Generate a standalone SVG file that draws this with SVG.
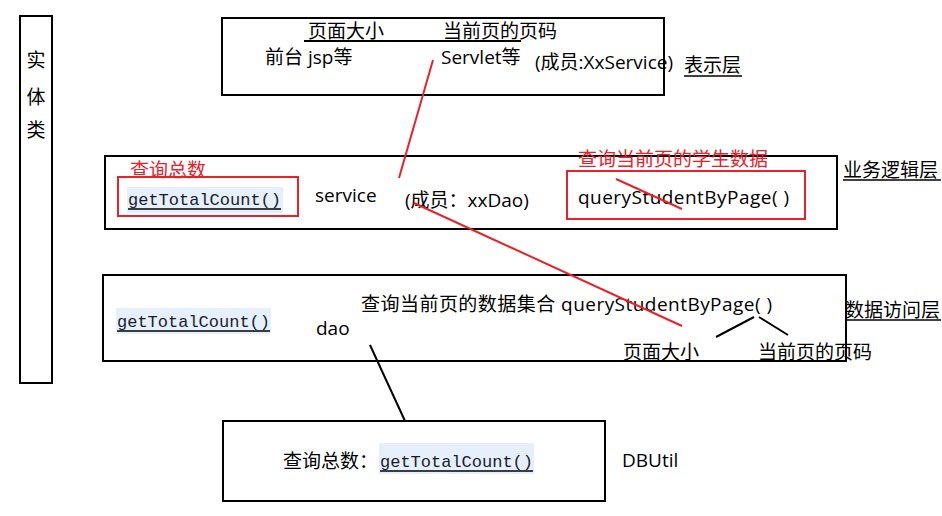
<svg xmlns="http://www.w3.org/2000/svg" width="942" height="516" viewBox="0 0 942 516">
<style>
.box{fill:none;stroke:#000;stroke-width:2}
.rbox{fill:none;stroke:#e8212a;stroke-width:2}
.t{font-family:"Open Sans","Noto Sans CJK SC",sans-serif;font-size:19px;fill:#000}
.r{fill:#e8212a}
.m{font-family:"Liberation Mono",monospace;font-size:17px;fill:#1a1a2a}
.hl{fill:#e6f0fc}
.ln{stroke:#000;stroke-width:2;fill:none}
.ul{stroke:#000;stroke-width:1.3}
.red{stroke:#e8212a;stroke-width:2;fill:none}
</style>
<rect width="942" height="516" fill="#fff"/>
<g id="entity">
<rect class="box" x="20" y="16" width="32" height="367"/>
<text class="t" x="36" y="67" text-anchor="middle">实</text>
<text class="t" x="36" y="104" text-anchor="middle">体</text>
<text class="t" x="36" y="137" text-anchor="middle">类</text>
</g>
<g id="presentation">
<rect class="box" x="222" y="18" width="442" height="77"/>
<text class="t" x="308" y="38">页面大小</text>
<text class="t" x="443" y="38">当前页的页码</text>
<line class="ln" x1="304" y1="41" x2="521" y2="41"/>
<text class="t" x="265" y="64">前台 jsp等</text>
<text class="t" x="441" y="64">Servlet等</text>
<text class="t" x="535" y="69">(成员:XxService)</text>
<text class="t" x="684" y="72">表示层</text>
<line class="ul" x1="684" y1="76" x2="742" y2="76"/>
</g>
<g id="service">
<rect class="box" x="105" y="156" width="732" height="73"/>
<text class="t r" x="130" y="177">查询总数</text>
<rect class="hl" x="127" y="187" width="156" height="26"/>
<text class="m" x="128" y="205">getTotalCount()</text>
<line class="ul" x1="128" y1="209" x2="281" y2="209"/>
<rect class="rbox" x="118" y="177" width="180" height="39"/>
<text class="t" x="315" y="202">service</text>
<text class="t" x="405" y="207">(成员：xxDao)</text>
<text class="t r" x="578" y="166">查询当前页的学生数据</text>
<rect class="rbox" x="567" y="171" width="238" height="48"/>
<text class="t" x="578" y="204" textLength="211" lengthAdjust="spacing">queryStudentByPage( )</text>
<text class="t" x="843" y="177">业务逻辑层</text>
<line class="ul" x1="843" y1="180" x2="941" y2="180"/>
</g>
<g id="dao">
<rect class="box" x="103" y="275" width="743" height="86"/>
<rect class="hl" x="116" y="308" width="155" height="26"/>
<text class="m" x="117" y="327">getTotalCount()</text>
<line class="ul" x1="117" y1="331" x2="270" y2="331"/>
<text class="t" x="316" y="335">dao</text>
<text class="t" x="361" y="311" textLength="411" lengthAdjust="spacing">查询当前页的数据集合 queryStudentByPage( )</text>
<text class="t" x="845" y="317">数据访问层</text>
<line class="ul" x1="845" y1="320" x2="941" y2="320"/>
<text class="t" x="623" y="359">页面大小</text>
<text class="t" x="758" y="359">当前页的页码</text>
</g>
<g id="dbutil">
<rect class="box" x="223" y="421" width="382" height="80"/>
<text class="t" x="283" y="468">查询总数：</text>
<rect class="hl" x="379" y="443" width="155" height="31"/>
<text class="m" x="380" y="467">getTotalCount()</text>
<line class="ul" x1="380" y1="471" x2="533" y2="471"/>
<text class="t" x="622" y="467">DBUtil</text>
</g>
<g id="connectors">
<line class="red" x1="433" y1="60" x2="399" y2="178"/>
<line class="red" x1="414" y1="203" x2="682" y2="326"/>
<line class="red" x1="616" y1="179" x2="682" y2="209"/>
<line class="ln" x1="716" y1="337" x2="754" y2="317"/>
<line class="ln" x1="759" y1="317" x2="788" y2="335"/>
<line class="ln" x1="370" y1="345" x2="405" y2="421"/>
</g>
</svg>
